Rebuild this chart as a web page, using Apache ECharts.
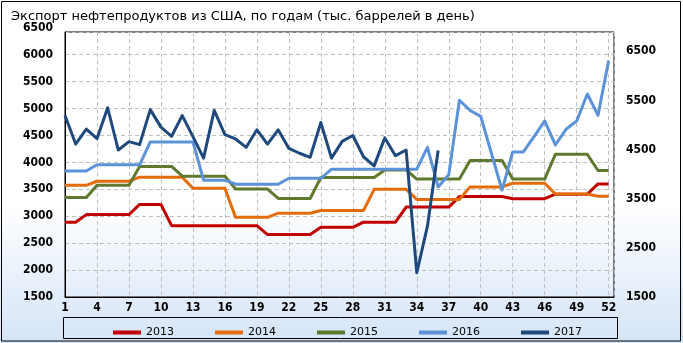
<!DOCTYPE html>
<html><head><meta charset="utf-8">
<script src="https://cdn.jsdelivr.net/npm/echarts@6/dist/echarts.min.js"></script>
<style>
html,body{margin:0;padding:0;}
#c{width:683px;height:343px;background:linear-gradient(to bottom,#ffffff 0%,#ffffff 60%,#d4e4f7 100%);}
</style></head>
<body><div id="c"></div>
<script>
const titleText = 'Экспорт нефтепродуктов из США, по годам (тыс. баррелей в день)';
const weeks = Array.from({length:52},(_,i)=>i+1);
const seriesNames = ['2013','2014','2015','2016','2017'];
const leftTicks = [1500,6500,500];
const rightTicks = [1500,6500,1000];

const y2013 = [2890,2890,3030,3030,3030,3030,3030,3220,3220,3220,
 2825,2825,2825,2825,2825,2825,2825,2825,2825,2660,
 2660,2660,2660,2660,2795,2795,2795,2795,2890,2890,
 2890,2890,3170,3170,3170,3170,3170,3365,3365,3365,
 3365,3365,3325,3325,3325,3325,3410,3410,3410,3410,
 3600,3600];
const y2014 = [3575,3575,3575,3650,3650,3650,3650,3725,3725,3725,
 3725,3725,3520,3520,3520,3520,2980,2980,2980,2980,
 3057,3057,3057,3057,3107,3107,3107,3107,3107,3500,
 3500,3500,3500,3313,3313,3313,3313,3313,3545,3545,
 3545,3545,3612,3612,3612,3612,3413,3413,3413,3413,
 3370,3370];
const y2015 = [3350,3350,3350,3575,3575,3575,3575,3925,3925,3925,
 3925,3745,3745,3745,3745,3745,3505,3505,3505,3505,
 3330,3330,3330,3330,3720,3720,3720,3720,3720,3720,
 3860,3860,3860,3690,3690,3690,3690,3690,4035,4035,
 4035,4035,3690,3690,3690,3690,4150,4150,4150,4150,
 3850,3850];
const y2016 = [3840,3840,3840,3955,3955,3955,3955,3955,4380,4380,
 4380,4380,4380,3670,3670,3670,3595,3595,3595,3595,
 3595,3705,3705,3705,3705,3875,3875,3875,3875,3875,
 3875,3875,3875,3875,4280,3545,3770,5155,4965,4855,
 4170,3485,4195,4195,4480,4770,4325,4615,4770,5270,
 4875,5890];
const y2017 = [4870,4340,4620,4440,5015,4230,4385,4330,4980,4655,
 4485,4870,4480,4080,4965,4515,4435,4280,4605,4340,
 4605,4260,4170,4095,4740,4080,4390,4500,4105,3935,
 4455,4125,4230,1950,2815,4220];

const colors = ['#c00000','#e46c0a','#5f7a2f','#5b92d8','#1f497d'];
const allData = [y2013,y2014,y2015,y2016,y2017];
const fam = "'DejaVu Sans Condensed','DejaVu Sans',sans-serif";

const chart = echarts.init(document.getElementById('c'));
const gridL = 65, gridW = 549, plotTop = 32, plotBottom = 297;
const pxPerUnit = (plotBottom - 27.8) / (leftTicks[1]-leftTicks[0]);
const mainMax = leftTicks[0] + (plotBottom - plotTop) / pxPerUnit;
const plain = v => String(v);

chart.setOption({
  animation:false,
  backgroundColor:'transparent',
  title:{text:titleText,left:6,top:5,textStyle:{fontFamily:"'DejaVu Sans',sans-serif",fontSize:13,fontWeight:'normal',color:'#000'}},
  grid:[
    {left:gridL,top:plotTop,width:gridW,height:plotBottom-plotTop,show:true,borderColor:'#000',borderWidth:1,backgroundColor:'transparent'},
    {left:gridL,top:27.8,width:gridW,height:plotBottom-27.8},
    {left:gridL,top:51.3,width:gridW,height:plotBottom-51.3}
  ],
  xAxis:[
    {type:'value',gridIndex:0,min:0,max:51.5,interval:3,
     axisLine:{show:true,lineStyle:{color:'#000'}},axisTick:{show:false},
     axisLabel:{formatter:v=>String(weeks[v]),showMaxLabel:false,margin:5,color:'#000',fontFamily:fam,fontWeight:'bold',fontSize:12},
     splitLine:{show:true,lineStyle:{color:'#c0c0c0',type:[4,3]}}},
    {type:'value',gridIndex:1,min:0,max:1,show:false},
    {type:'value',gridIndex:2,min:0,max:1,show:false}
  ],
  yAxis:[
    {type:'value',gridIndex:0,min:leftTicks[0],max:mainMax,interval:leftTicks[2],
     axisLine:{show:true,lineStyle:{color:'#000'}},axisTick:{show:false},axisLabel:{show:false},
     splitLine:{show:true,lineStyle:{color:'#c0c0c0',type:[4,3]}}},
    {type:'value',gridIndex:1,min:leftTicks[0],max:leftTicks[1],interval:leftTicks[2],
     axisLine:{show:false},axisTick:{show:false},splitLine:{show:false},
     axisLabel:{formatter:plain,margin:12,color:'#000',fontFamily:fam,fontWeight:'bold',fontSize:12}},
    {type:'value',gridIndex:2,position:'right',min:rightTicks[0],max:rightTicks[1],interval:rightTicks[2],
     axisLine:{show:false},axisTick:{show:false},splitLine:{show:false},
     axisLabel:{formatter:plain,margin:12,color:'#000',fontFamily:fam,fontWeight:'bold',fontSize:12}}
  ],
  legend:{data:seriesNames,left:108,top:322,icon:'rect',itemWidth:28,itemHeight:4,itemGap:41,
    textStyle:{fontFamily:"'DejaVu Sans',sans-serif",fontSize:11,color:'#000'}},
  graphic:[
    {type:'rect',shape:{x:63.5,y:317.5,width:554,height:21},style:{fill:'transparent',stroke:'#000',lineWidth:1},silent:true},
    {type:'rect',shape:{x:1.5,y:1.5,width:679,height:339.5},style:{fill:'transparent',stroke:'#000',lineWidth:1},silent:true}
  ],
  series: seriesNames.map((n,k)=>({
    name:n,type:'line',xAxisIndex:0,yAxisIndex:0,symbol:'none',
    lineStyle:{width:3,color:colors[k],join:'round'},itemStyle:{color:colors[k]},
    data: allData[k].map((v,i)=>[weeks[i]-1,v])
  }))
});
</script></body></html>
